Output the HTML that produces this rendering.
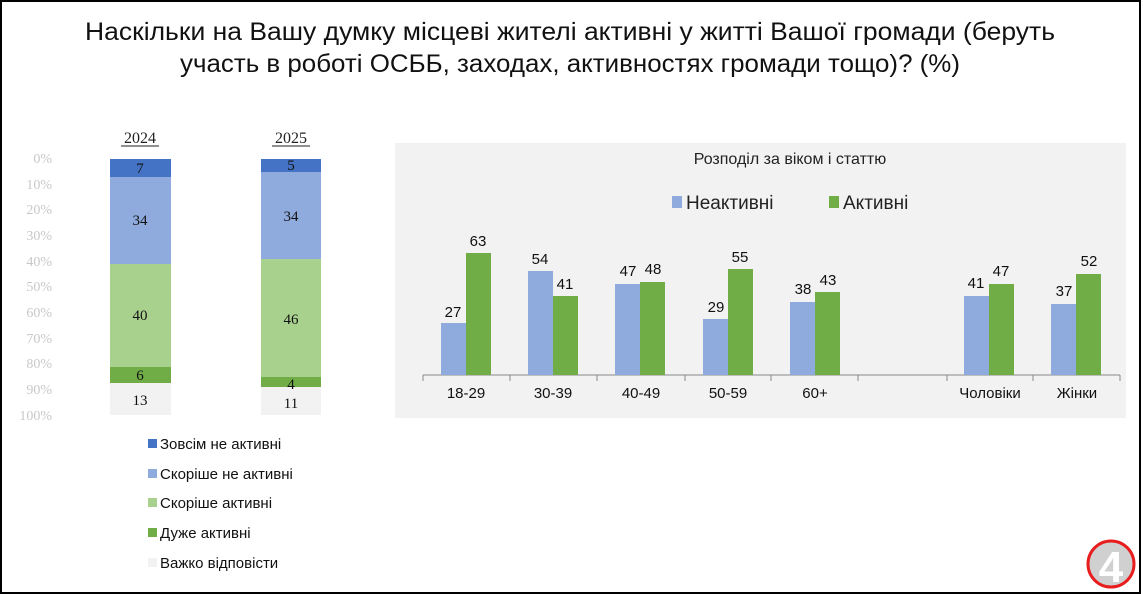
<!DOCTYPE html>
<html><head><meta charset="utf-8"><style>
html,body{margin:0;padding:0;background:#fff}
svg{display:block}
</style></head><body>
<svg width="1143" height="594" viewBox="0 0 1143 594" xmlns="http://www.w3.org/2000/svg" font-family="'Liberation Sans', sans-serif">
<rect x="0" y="0" width="1143" height="594" fill="#fff"/>
<rect x="1" y="1" width="1139" height="592" fill="none" stroke="#000" stroke-width="2"/>
<g font-family="'Liberation Sans Narrow','Liberation Sans',sans-serif" font-size="25" fill="#111" text-anchor="middle">
<text x="570" y="40" textLength="970" lengthAdjust="spacingAndGlyphs">Наскільки на Вашу думку місцеві жителі активні у житті Вашої громади (беруть</text>
<text x="570" y="72" textLength="780" lengthAdjust="spacingAndGlyphs">участь в роботі ОСББ, заходах, активностях громади тощо)? (%)</text>
</g>
<g font-size="14" fill="#c8c8c8" text-anchor="end" font-family="'Liberation Serif',serif">
<text x="52" y="163">0%</text><text x="52" y="189">10%</text><text x="52" y="214">20%</text><text x="52" y="240">30%</text><text x="52" y="266">40%</text><text x="52" y="291">50%</text><text x="52" y="317">60%</text><text x="52" y="343">70%</text><text x="52" y="368">80%</text><text x="52" y="394">90%</text><text x="52" y="420">100%</text>
</g>
<g font-size="16" fill="#222" text-anchor="middle" font-family="'Liberation Serif',serif">
<text x="140" y="143">2024</text><line x1="121" y1="146" x2="159" y2="146" stroke="#222"/>
<text x="291" y="143">2025</text><line x1="272" y1="146" x2="310" y2="146" stroke="#222"/>
</g>
<rect x="110" y="159" width="61" height="18" fill="#4472c4"/>
<rect x="110" y="177" width="61" height="87" fill="#8faadc"/>
<rect x="110" y="264" width="61" height="103" fill="#a9d18e"/>
<rect x="110" y="367" width="61" height="16" fill="#70ad47"/>
<rect x="110" y="383" width="61" height="32" fill="#f2f2f2"/>
<rect x="261" y="159" width="60" height="13" fill="#4472c4"/>
<rect x="261" y="172" width="60" height="87" fill="#8faadc"/>
<rect x="261" y="259" width="60" height="118" fill="#a9d18e"/>
<rect x="261" y="377" width="60" height="10" fill="#70ad47"/>
<rect x="261" y="387" width="60" height="28" fill="#f2f2f2"/>
<g font-size="15" fill="#111" text-anchor="middle" font-family="'Liberation Serif',serif">
<text x="140" y="173">7</text><text x="140" y="225">34</text><text x="140" y="320">40</text><text x="140" y="380">6</text><text x="140" y="405">13</text>
<text x="291" y="170">5</text><text x="291" y="221">34</text><text x="291" y="324">46</text><text x="291" y="389">4</text><text x="291" y="408">11</text>
</g>
<g font-size="15" fill="#111">
<rect x="148" y="439" width="9" height="9" fill="#4472c4"/><text x="160" y="449">Зовсім не активні</text>
<rect x="148" y="469" width="9" height="9" fill="#8faadc"/><text x="160" y="479">Скоріше не активні</text>
<rect x="148" y="498" width="9" height="9" fill="#a9d18e"/><text x="160" y="508">Скоріше активні</text>
<rect x="148" y="528" width="9" height="9" fill="#70ad47"/><text x="160" y="538">Дуже активні</text>
<rect x="148" y="558" width="9" height="9" fill="#f2f2f2"/><text x="160" y="568">Важко відповісти</text>
</g>
<rect x="395" y="143" width="731" height="275" fill="#f2f2f2"/>
<text x="790" y="164" font-size="16" fill="#222" text-anchor="middle" font-family="'Liberation Sans Narrow','Liberation Sans',sans-serif">Розподіл за віком і статтю</text>
<rect x="672" y="196" width="10" height="12" fill="#8faadc"/><text x="686" y="209" font-size="19" fill="#222">Неактивні</text>
<rect x="829" y="196" width="10" height="12" fill="#70ad47"/><text x="843" y="209" font-size="19" fill="#222">Активні</text>
<line x1="423" y1="375" x2="1120" y2="375" stroke="#888"/>
<g stroke="#888">
<line x1="423" y1="375" x2="423" y2="381"/><line x1="510" y1="375" x2="510" y2="381"/><line x1="597" y1="375" x2="597" y2="381"/><line x1="685" y1="375" x2="685" y2="381"/><line x1="771" y1="375" x2="771" y2="381"/><line x1="858" y1="375" x2="858" y2="381"/><line x1="947" y1="375" x2="947" y2="381"/><line x1="1033" y1="375" x2="1033" y2="381"/><line x1="1120" y1="375" x2="1120" y2="381"/>
</g>
<g fill="#8faadc">
<rect x="441" y="323" width="25" height="52"/>
<rect x="528" y="271" width="25" height="104"/>
<rect x="615" y="284" width="25" height="91"/>
<rect x="703" y="319" width="25" height="56"/>
<rect x="790" y="302" width="25" height="73"/>
<rect x="964" y="296" width="25" height="79"/>
<rect x="1051" y="304" width="25" height="71"/>
</g>
<g fill="#70ad47">
<rect x="466" y="253" width="25" height="122"/>
<rect x="553" y="296" width="25" height="79"/>
<rect x="640" y="282" width="25" height="93"/>
<rect x="728" y="269" width="25" height="106"/>
<rect x="815" y="292" width="25" height="83"/>
<rect x="989" y="284" width="25" height="91"/>
<rect x="1076" y="274" width="25" height="101"/>
</g>
<g font-size="15" fill="#111" text-anchor="middle" font-family="'Liberation Sans Narrow','Liberation Sans',sans-serif">
<text x="453" y="317">27</text><text x="478" y="246">63</text>
<text x="540" y="264">54</text><text x="565" y="289">41</text>
<text x="628" y="276">47</text><text x="653" y="274">48</text>
<text x="716" y="312">29</text><text x="740" y="262">55</text>
<text x="803" y="294">38</text><text x="828" y="285">43</text>
<text x="976" y="288">41</text><text x="1001" y="276">47</text>
<text x="1064" y="296">37</text><text x="1089" y="266">52</text>
<text x="466" y="398">18-29</text><text x="553" y="398">30-39</text><text x="641" y="398">40-49</text><text x="728" y="398">50-59</text><text x="815" y="398">60+</text><text x="990" y="398">Чоловіки</text><text x="1077" y="398">Жінки</text>
</g>
<circle cx="1111" cy="564" r="23" fill="#d0d0d0" stroke="#e81e1e" stroke-width="3"/>
<text x="1111" y="582" font-size="44" font-weight="bold" fill="#fff" text-anchor="middle">4</text>
</svg>
</body></html>
